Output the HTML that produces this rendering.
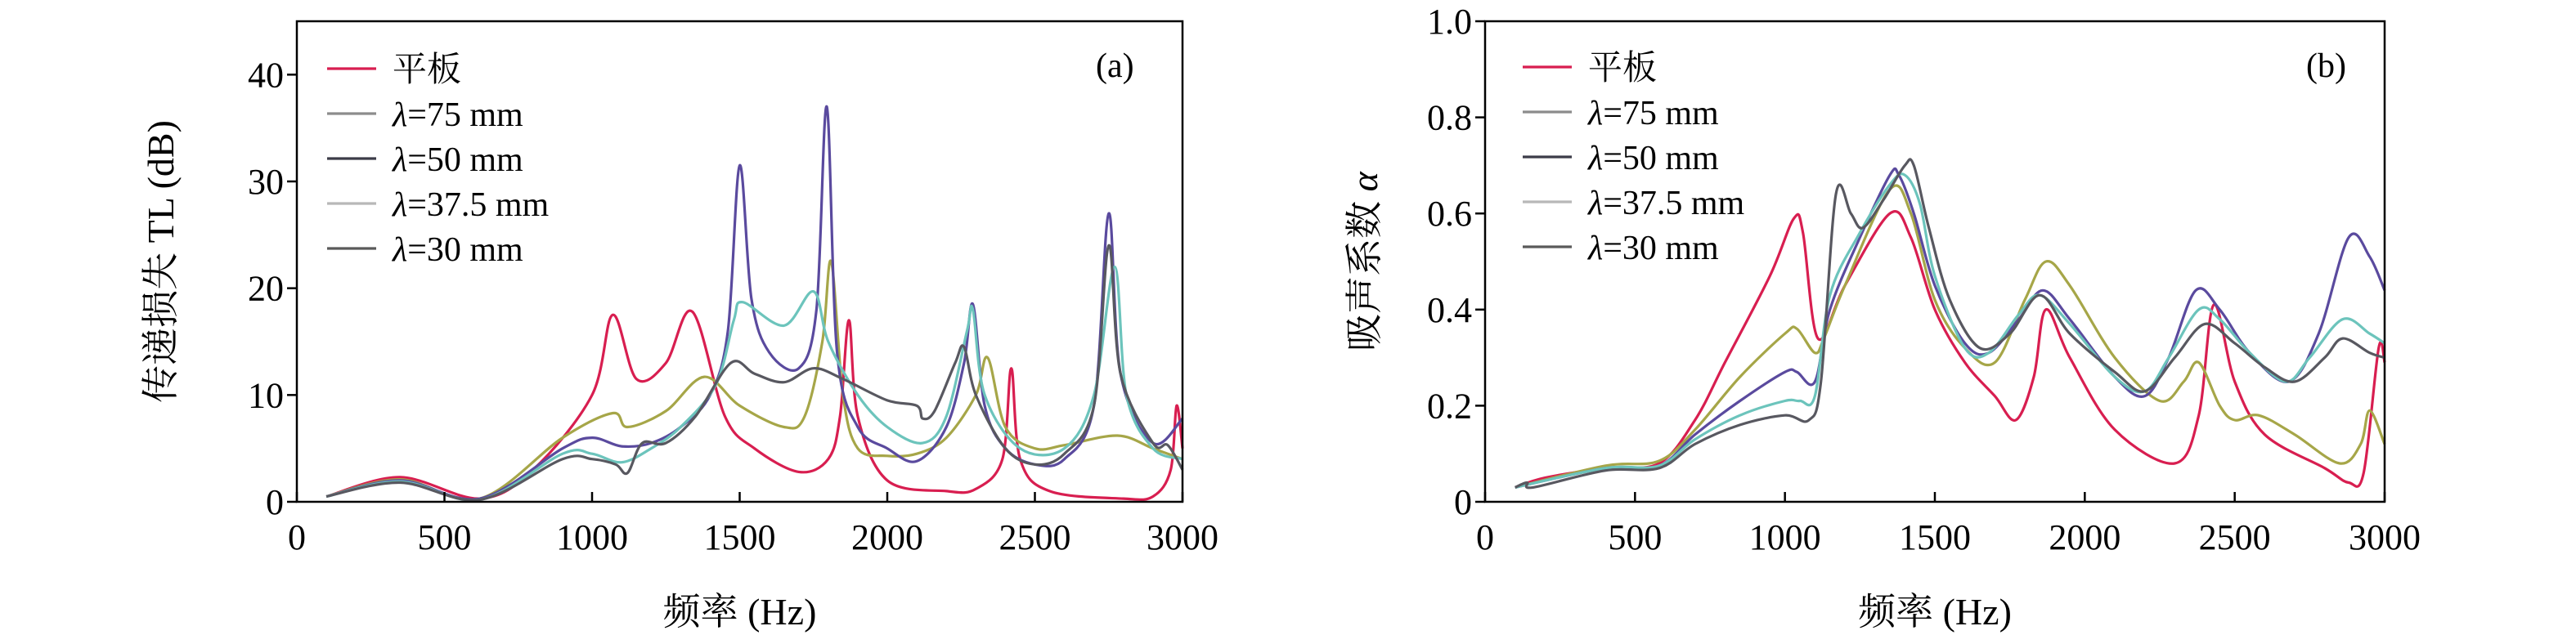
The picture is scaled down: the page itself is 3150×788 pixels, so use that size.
<!DOCTYPE html>
<html><head><meta charset="utf-8"><style>
html,body{margin:0;padding:0;background:#fff;}
svg{display:block;font-family:"Liberation Serif","Noto Serif CJK SC",serif;}
</style></head><body>
<svg id="c" width="3150" height="788" viewBox="0 0 3150 788" xmlns="http://www.w3.org/2000/svg"></svg>
<script>
const freqA1=[100,350,620,800,1000,1070,1150,1250,1340,1450,1550,1700,1800,1840,1870,1900,2000,2200,2300,2390,2420,2450,2550,2800,2900,2960,2980,3000];
const tlFlat=[0.5,2.3,0.3,3,10,17.5,11.5,13,17.8,8,5,2.8,4,8,17,8,2,1,1.2,4,12.5,4,1,0.3,0.5,3,9,5];
const freqA2=[100,350,620,900,1070,1120,1250,1380,1500,1650,1720,1780,1810,1850,1900,2000,2100,2200,2300,2340,2400,2500,2600,2780,2900,3000];
const tl75=[0.5,2.1,0.3,6,8.3,7,8.5,11.7,9,7,8,15,22.5,10,5,4.3,4.5,6,10,13.5,7,5,5.3,6.2,5,4];
const freqA3=[100,350,620,900,1000,1100,1200,1300,1400,1460,1500,1540,1600,1700,1760,1795,1830,1900,2000,2100,2200,2260,2290,2330,2400,2500,2600,2700,2750,2790,2900,3000];
const tl50=[0.5,2,0.3,5,6,5.2,5.5,7,10,16,31.5,19,14,12.5,18,37,14,7,5,3.8,7,13,18.5,9,5,3.5,4,9,27,12,5.5,7.8];
const freqA4=[100,350,620,900,1000,1100,1200,1300,1420,1480,1510,1650,1750,1800,1900,2000,2120,2200,2270,2290,2330,2450,2600,2700,2770,2810,2900,3000];
const tl375=[0.5,1.9,0.2,4.5,4.5,3.7,5,7,11,17,18.7,16.5,19.7,15,10,7,5.5,8,16,18,10,5,5,10,22,10,5,4];
const freqA5=[100,350,620,900,1000,1080,1120,1170,1250,1350,1470,1550,1650,1750,1850,2000,2100,2120,2160,2230,2260,2300,2400,2500,2600,2700,2750,2790,2900,2950,3000];
const tl30=[0.5,1.8,0.2,4,4,3.5,2.7,5.5,5.5,8,13,12,11.2,12.5,11.5,9.5,9,7.8,8.5,13,14.5,10,5,3.5,4.5,9,24,12,5.5,5.3,3];

const freqB1=[100,200,400,580,700,800,950,1030,1060,1110,1200,1350,1420,1500,1600,1700,1770,1830,1870,1950,2100,2300,2380,2430,2500,2600,2800,2880,2930,2980,3000];
const aFlat=[.03,.05,.07,.08,.17,.29,.47,.59,.56,.34,.45,.60,.55,.40,.29,.22,.17,.26,.40,.30,.15,.08,.18,.41,.25,.14,.07,.04,.06,.32,.29];
const freqB2=[100,400,580,700,850,1000,1040,1100,1130,1200,1350,1420,1500,1600,1700,1800,1870,1950,2100,2250,2330,2380,2450,2500,2580,2700,2850,2920,2950,3000];
const a75=[.03,.075,.085,.15,.26,.35,.36,.31,.34,.45,.65,.60,.42,.32,.29,.42,.50,.45,.30,.21,.25,.29,.20,.17,.18,.14,.08,.12,.19,.12];
const freqB3=[100,400,580,700,850,1000,1040,1100,1150,1250,1350,1380,1430,1500,1600,1680,1780,1860,1950,2100,2200,2280,2370,2450,2550,2680,2780,2880,2950,3000];
const a50=[.03,.07,.075,.14,.21,.27,.27,.25,.40,.55,.68,.68,.60,.45,.33,.31,.38,.44,.38,.26,.22,.30,.44,.40,.31,.25,.35,.55,.51,.44];
const freqB4=[100,400,580,700,850,1000,1050,1100,1150,1250,1350,1400,1450,1500,1600,1680,1780,1850,1950,2100,2200,2280,2380,2450,2550,2670,2750,2860,2950,3000];
const a375=[.03,.07,.075,.13,.18,.21,.21,.22,.43,.56,.66,.68,.62,.47,.32,.31,.39,.43,.37,.26,.23,.30,.40,.38,.31,.25,.30,.38,.35,.33];
const freqB5=[100,140,160,400,580,700,850,1000,1080,1120,1170,1220,1260,1330,1400,1430,1480,1550,1650,1750,1850,1950,2100,2200,2300,2400,2500,2600,2700,2800,2860,2950,3000];
const a30=[.03,.04,.03,.065,.07,.12,.16,.18,.17,.25,.64,.60,.57,.63,.70,.70,.57,.42,.32,.35,.43,.35,.27,.23,.30,.37,.33,.28,.25,.30,.34,.31,.30];

const xTicks=[0,500,1000,1500,2000,2500,3000];
const yTicksA=[0,10,20,30,40];
const yTicksB=["0","0.2","0.4","0.6","0.8","1.0"];
const legendLabels=["平板","λ=75 mm","λ=50 mm","λ=37.5 mm","λ=30 mm"];
const seriesColors=["#d81e50","#a6a648","#5a4a9e","#6cc4bc","#585860"];
const legendColors=["#d81e50","#8c8c8c","#3c3c48","#b8b8b8","#5a5a5a"];

const NS="http://www.w3.org/2000/svg";
const svg=document.getElementById('c');
function mk(tag,attrs,parent,text){const e=document.createElementNS(NS,tag);for(const k in attrs)e.setAttribute(k,attrs[k]);if(text!==undefined)e.textContent=text;(parent||svg).appendChild(e);return e;}

function smoothPath(pts){let d="M"+pts[0][0].toFixed(1)+","+pts[0][1].toFixed(1);
 for(let i=0;i<pts.length-1;i++){const p0=pts[i-1]||pts[i],p1=pts[i],p2=pts[i+1],p3=pts[i+2]||p2;
  const t=6;const c1=[p1[0]+(p2[0]-p0[0])/t,p1[1]+(p2[1]-p0[1])/t];const c2=[p2[0]-(p3[0]-p1[0])/t,p2[1]-(p3[1]-p1[1])/t];
  d+=" C"+c1[0].toFixed(1)+","+c1[1].toFixed(1)+" "+c2[0].toFixed(1)+","+c2[1].toFixed(1)+" "+p2[0].toFixed(1)+","+p2[1].toFixed(1);}
 return d;}

function panel(cfg){
 const g=mk('g',{});
 
 
 const X=v=>cfg.x0+(v-0)/3000*(cfg.x1-cfg.x0);
 const Y=v=>cfg.yb+(v-cfg.ymin)/(cfg.ymax-cfg.ymin)*(cfg.yt-cfg.yb);
 cfg.series.forEach((s,i)=>{const pts=s[0].map((f,j)=>[X(f),Y(s[1][j])]);
  const p=mk('path',{d:smoothPath(pts),fill:'none',stroke:seriesColors[i],'stroke-width':3.2,'stroke-linejoin':'round'},g);
  
  });
 const fr=mk('rect',{x:cfg.x0,y:cfg.yt,width:cfg.x1-cfg.x0,height:cfg.yb-cfg.yt,fill:'none',stroke:'#000','stroke-width':2.5},g);
 
 
 xTicks.forEach(t=>{const x=X(t);mk('line',{x1:x,x2:x,y1:cfg.yb,y2:cfg.yb-12,stroke:'#000','stroke-width':2.5},g);
  const tx=mk('text',{x:x,y:cfg.yb+58,'text-anchor':'middle','font-size':44},g,String(t));
  
  });
 cfg.yticks.forEach(t=>{const y=Y(parseFloat(t));mk('line',{x1:cfg.x0,x2:cfg.x0-12,y1:y,y2:y,stroke:'#000','stroke-width':2.5},g);
  const tx=mk('text',{x:cfg.x0-16,y:y+15,'text-anchor':'end','font-size':44},g,String(t));
  
  });
 const xt=mk('text',{x:(cfg.x0+cfg.x1)/2,y:764,'text-anchor':'middle','font-size':46},g,'频率 (Hz)');
 
 
 const yt=mk('text',{x:0,y:0,transform:'translate('+cfg.ylx+','+((cfg.yt+cfg.yb)/2)+') rotate(-90)','text-anchor':'middle','font-size':46},g);
 
 
 yt.innerHTML=cfg.ylabel;
 const pl=mk('text',{x:cfg.plx,y:94,'font-size':42},g,cfg.plabel);
 
 
 legendLabels.forEach((l,i)=>{const y=cfg.ly+i*55;
  const le=mk('g',{},g);
  
  
  mk('line',{x1:cfg.lx,x2:cfg.lx+60,y1:y,y2:y,stroke:legendColors[i],'stroke-width':3.2},le);
  const t=mk('text',{x:cfg.lx+80,y:y+15,'font-size':42},le);
  if(i===0)t.textContent=l;else{mk('tspan',{'font-style':'italic'},t,'λ');mk('tspan',{},t,l.slice(1));}
 });
}
panel({name:'panel-a-transmission-loss',x0:363,x1:1446,yt:26,yb:614,ymin:0,ymax:45,yticks:yTicksA.map(String),ylx:212,
 ylabel:'传递损失 TL (dB)',plabel:'(a)',plx:1340,lx:400,ly:84,
 series:[[freqA1,tlFlat],[freqA2,tl75],[freqA3,tl50],[freqA4,tl375],[freqA5,tl30]]});
panel({name:'panel-b-absorption',x0:1816,x1:2916,yt:26,yb:614,ymin:0,ymax:1,yticks:yTicksB,ylx:1684,
 ylabel:'吸声系数 <tspan font-style="italic">α</tspan>',plabel:'(b)',plx:2820,lx:1862,ly:82,
 series:[[freqB1,aFlat],[freqB2,a75],[freqB3,a50],[freqB4,a375],[freqB5,a30]]});
</script>
</body></html>
